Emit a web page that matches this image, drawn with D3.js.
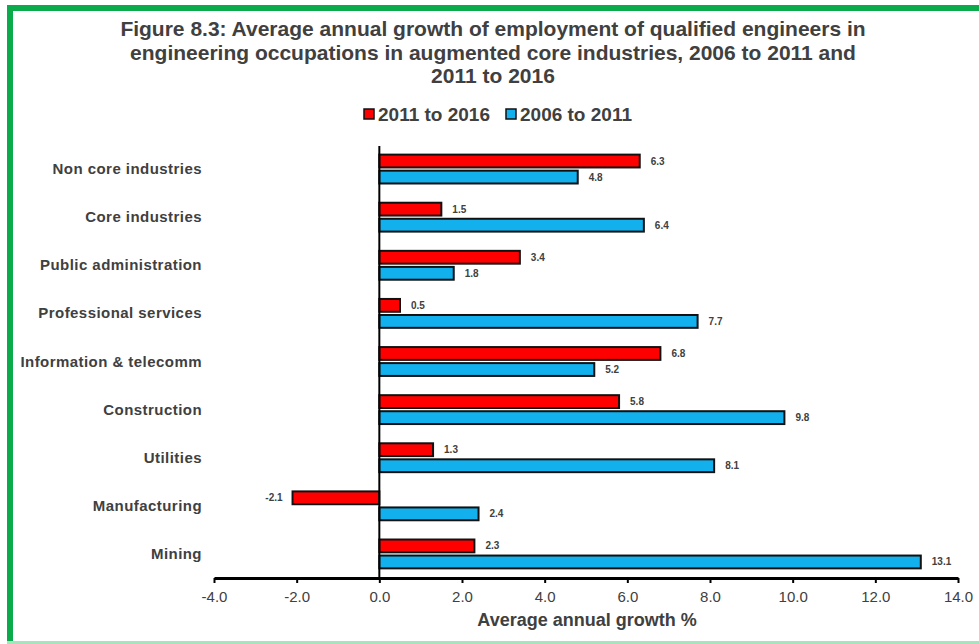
<!DOCTYPE html>
<html><head><meta charset="utf-8">
<script src="https://cdn.jsdelivr.net/npm/d3@7"></script>
<style>
html,body{margin:0;padding:0;background:#fff;}
svg{display:block;}
</style></head>
<body>
<svg id="chart" width="979" height="644"></svg>
<script>
const categories = ["Non core industries","Core industries","Public administration","Professional services","Information & telecomm","Construction","Utilities","Manufacturing","Mining"];
const series2011_2016 = [6.3,1.5,3.4,0.5,6.8,5.8,1.3,-2.1,2.3];
const series2006_2011 = [4.8,6.4,1.8,7.7,5.2,9.8,8.1,2.4,13.1];
const seriesNames = ["2011 to 2016","2006 to 2011"];
const xTicks = [-4,-2,0,2,4,6,8,10,12,14];
const titleLines = ["Figure 8.3: Average annual growth of employment of qualified engineers in","engineering occupations in augmented core industries, 2006 to 2011 and","2011 to 2016"];
const axisTitle = "Average annual growth %";

const colors = ["#ff0000","#12b0ec"];
const textCol = "#404040";
const narrow = "'Liberation Sans Narrow','Arial Narrow','Liberation Sans',sans-serif";
const sans = "'Liberation Sans',Arial,sans-serif";

const svg = d3.select("#chart");

// frame
svg.append("rect").attr("x",0).attr("y",0).attr("width",979).attr("height",644).attr("fill","#fff");
svg.append("rect").attr("x",7).attr("y",5).attr("width",985).attr("height",6).attr("fill","#0bab4b");
svg.append("rect").attr("x",7).attr("y",5).attr("width",6).attr("height",639).attr("fill","#0bab4b");
svg.append("rect").attr("x",7).attr("y",641).attr("width",985).attr("height",3).attr("fill","#a8e3bd");

// title
svg.append("g").selectAll("text").data(titleLines).join("text")
  .attr("x",493).attr("y",(d,i)=>36+i*23.5)
  .attr("text-anchor","middle").attr("font-family",narrow).attr("font-weight","bold")
  .attr("font-size",21).attr("fill",textCol).text(d=>d);

const x = d3.scaleLinear().domain([-4,14]).range([214,958]);
const y = d3.scaleBand().domain(categories).range([145,578]).paddingInner(0).paddingOuter(0);
const y1 = d3.scaleBand().domain(seriesNames).range([0,y.bandwidth()]).paddingInner(0.2).paddingOuter(0.6);

const data = categories.map((c,i)=>({cat:c, vals:[series2011_2016[i],series2006_2011[i]]}));

const g = svg.append("g");
const groups = g.selectAll("g.cat").data(data).join("g").attr("class","cat")
  .attr("transform",d=>`translate(0,${y(d.cat)})`);

groups.selectAll("rect").data(d=>d.vals.map((v,j)=>({v,s:seriesNames[j],j}))).join("rect")
  .attr("x",d=>x(Math.min(0,d.v))).attr("y",d=>y1(d.s))
  .attr("width",d=>Math.abs(x(d.v)-x(0))).attr("height",y1.bandwidth())
  .attr("fill",d=>colors[d.j]).attr("stroke","#111").attr("stroke-width",2);

groups.selectAll("text").data(d=>d.vals.map((v,j)=>({v,s:seriesNames[j],j}))).join("text")
  .attr("x",d=>d.v<0 ? x(d.v)-10 : x(d.v)+11)
  .attr("y",d=>y1(d.s)+y1.bandwidth()/2+3.5)
  .attr("text-anchor",d=>d.v<0?"end":"start")
  .attr("font-family",sans).attr("font-weight","bold").attr("font-size",10).attr("fill",textCol)
  .text(d=>d.v.toFixed(1));

// category labels
g.append("g").selectAll("text").data(categories).join("text")
  .attr("x",202).attr("y",d=>y(d)+y.bandwidth()/2+5)
  .attr("text-anchor","end").attr("font-family",sans).attr("font-weight","bold")
  .attr("font-size",15).attr("letter-spacing","0.45px").attr("fill",textCol).text(d=>d);

// x axis
const xAxis = d3.axisBottom(x).tickValues(xTicks).tickFormat(d3.format(".1f")).tickSize(5).tickSizeOuter(0);
const ax = svg.append("g").attr("transform","translate(0,578)").call(xAxis);
ax.select(".domain").attr("stroke","#000").attr("stroke-width",3);
ax.selectAll(".tick line").attr("stroke","#000").attr("stroke-width",2);
ax.selectAll(".tick text").attr("font-family",narrow).attr("font-size",15).attr("fill",textCol).attr("dy","1.05em")
  .text(d=>d3.format(".1f")(d).replace("−","-"));

// vertical zero axis
svg.append("line").attr("x1",x(0)).attr("x2",x(0)).attr("y1",146).attr("y2",578)
  .attr("stroke","#000").attr("stroke-width",2);

// axis title
svg.append("text").attr("x",587).attr("y",626).attr("text-anchor","middle")
  .attr("font-family",narrow).attr("font-weight","bold").attr("font-size",18).attr("fill",textCol).text(axisTitle);

// legend
const leg = svg.append("g");
const legX = [364,506];
seriesNames.forEach((n,i)=>{
  leg.append("rect").attr("x",legX[i]).attr("y",109).attr("width",10).attr("height",10)
    .attr("fill",colors[i]).attr("stroke","#111").attr("stroke-width",1.5);
  leg.append("text").attr("x",legX[i]+14).attr("y",121).attr("font-family",narrow).attr("font-weight","bold")
    .attr("font-size",19).attr("fill",textCol).text(n);
});
</script>
</body></html>
